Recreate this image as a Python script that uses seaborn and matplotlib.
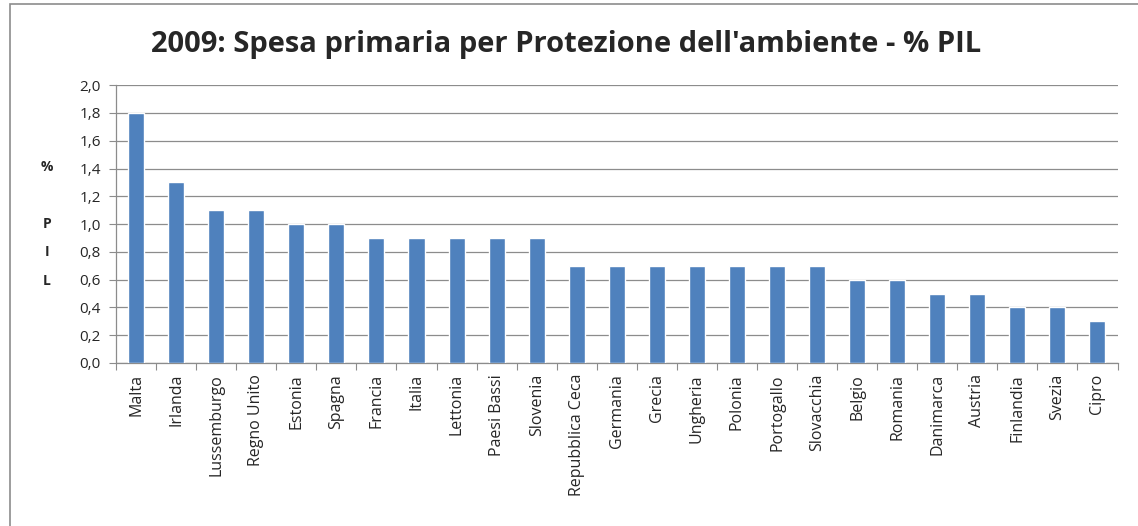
import pandas as pd
import seaborn as sns
import matplotlib.pyplot as plt
from matplotlib.patches import Rectangle

# dati
paesi = ['Malta', 'Irlanda', 'Lussemburgo', 'Regno Unito', 'Estonia', 'Spagna',
         'Francia', 'Italia', 'Lettonia', 'Paesi Bassi', 'Slovenia',
         'Repubblica Ceca', 'Germania', 'Grecia', 'Ungheria', 'Polonia',
         'Portogallo', 'Slovacchia', 'Belgio', 'Romania', 'Danimarca',
         'Austria', 'Finlandia', 'Svezia', 'Cipro']
spesa_pil = [1.8, 1.3, 1.1, 1.1, 1.0, 1.0, 0.9, 0.9, 0.9, 0.9, 0.9,
             0.7, 0.7, 0.7, 0.7, 0.7, 0.7, 0.7, 0.6, 0.6, 0.5, 0.5, 0.4, 0.4, 0.3]
y_ticks = [0.0, 0.2, 0.4, 0.6, 0.8, 1.0, 1.2, 1.4, 1.6, 1.8, 2.0]

df = pd.DataFrame({'paese': paesi, 'pil': spesa_pil})

sns.set_style('white')
plt.rcParams['font.family'] = ['Open Sans', 'DejaVu Sans']

fig = plt.figure(figsize=(11.38, 5.26), dpi=100)
ax = fig.add_axes([0.102, 0.310, 0.880, 0.528])

sns.barplot(data=df, x='paese', y='pil', color='#4F81BD', width=0.4,
            saturation=1, ax=ax, zorder=3)

ax.set_ylim(0, 2.0)
ax.set_xlim(-0.5, len(paesi) - 0.5)
ax.set_yticks(y_ticks)
ax.set_yticklabels([f'{v:.1f}'.replace('.', ',') for v in y_ticks], fontsize=11)
ax.yaxis.grid(True, color='#8c8c8c', linewidth=0.9, zorder=0)
ax.set_axisbelow(True)

# tick sull'asse x ai bordi delle categorie
ax.set_xticks([i - 0.5 for i in range(len(paesi) + 1)], minor=False)
ax.set_xticklabels([])
ax.set_xticks(range(len(paesi)), minor=True)
ax.set_xticklabels(paesi, minor=True, rotation=90, fontsize=11.5)
ax.tick_params(axis='x', which='minor', length=0, pad=8)
ax.tick_params(axis='x', which='major', length=5, color='#8c8c8c', direction='out')
ax.tick_params(axis='y', length=5, color='#8c8c8c', direction='out', pad=6)
ax.tick_params(left=True, bottom=True)

for s in ['top', 'right']:
    ax.spines[s].set_visible(False)
for s in ['left', 'bottom']:
    ax.spines[s].set_color('#8c8c8c')
    ax.spines[s].set_linewidth(0.9)

ax.set_xlabel('')
ax.set_ylabel('%\n\nP\nI\nL', rotation=0, fontsize=10, fontweight='bold',
              linespacing=2.3, va='center')
ax.yaxis.set_label_coords(-0.069, 0.50)

fig.text(0.497, 0.915, "2009: Spesa primaria per Protezione dell'ambiente - % PIL",
         ha='center', va='center', fontsize=21, fontweight='bold')

# cornice del grafico
fig.patches.append(Rectangle((0.009, -0.01), 1.0, 1.002, transform=fig.transFigure,
                             fill=False, edgecolor='#8c8c8c', linewidth=1.2))

fig.savefig('out.png', dpi=100)
